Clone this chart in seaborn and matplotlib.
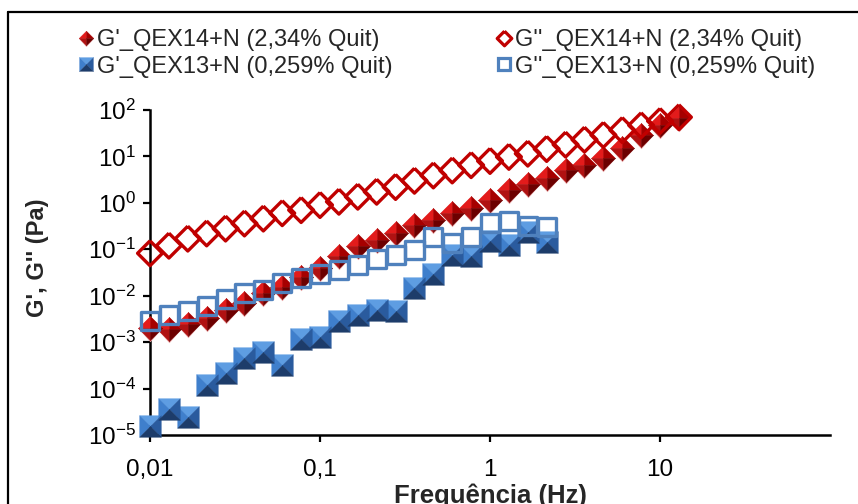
import numpy as np
import pandas as pd
import matplotlib
matplotlib.use("Agg")
import matplotlib.pyplot as plt
import seaborn as sns
from matplotlib.path import Path
from matplotlib.lines import Line2D
from matplotlib.legend_handler import HandlerTuple
from matplotlib.ticker import FixedLocator, FixedFormatter, NullLocator

# ---------------- data ----------------
freq = [0.01, 0.01292, 0.01668, 0.02154, 0.02783, 0.03594, 0.04642, 0.05995,
        0.07743, 0.1, 0.1292, 0.1668, 0.2154, 0.2783, 0.3594, 0.4642, 0.5995,
        0.7743, 1.0, 1.292, 1.668, 2.154, 2.783, 3.594, 4.642, 5.995, 7.743,
        10.0, 12.92]

g_storage_qex14 = [2.0e-3, 1.9e-3, 2.5e-3, 3.3e-3, 4.9e-3, 6.9e-3, 1.13e-2, 1.57e-2,
                   2.5e-2, 3.9e-2, 7.0e-2, 0.12, 0.16, 0.22, 0.33, 0.43, 0.60,
                   0.76, 1.15, 1.9, 2.5, 3.5, 5.1, 6.5, 9.1, 15.0, 29.0, 48.0, 66.0]
g_loss_qex14 = [0.082, 0.12, 0.17, 0.22, 0.28, 0.36, 0.46, 0.60, 0.70, 0.90, 1.06,
                1.36, 1.74, 2.2, 3.0, 3.9, 5.0, 6.5, 8.0, 9.8, 11.5, 14.5, 18.0,
                23.0, 29.0, 37.0, 47.0, 58.0, 70.0]

g_storage_qex13 = [1.6e-5, 3.7e-5, 2.4e-5, 1.2e-4, 2.2e-4, 4.5e-4, 6.0e-4, 3.2e-4,
                   1.15e-3, 1.3e-3, 2.8e-3, 3.9e-3, 4.9e-3, 4.8e-3, 1.45e-2, 3.0e-2,
                   7.5e-2, 7.0e-2, 0.15, 0.125, 0.24, 0.145]
g_loss_qex13 = [2.9e-3, 3.9e-3, 4.7e-3, 5.9e-3, 8.5e-3, 1.12e-2, 1.35e-2, 1.85e-2,
                2.4e-2, 2.9e-2, 3.6e-2, 4.6e-2, 6.1e-2, 7.5e-2, 9.7e-2, 0.18, 0.135,
                0.18, 0.37, 0.41, 0.32, 0.30]

series_labels = ["G'_QEX14+N (2,34% Quit)", "G''_QEX14+N (2,34% Quit)",
                 "G'_QEX13+N (0,259% Quit)", "G''_QEX13+N (0,259% Quit)"]

x_ticks = [0.01, 0.1, 1, 10]
x_tick_labels = ["0,01", "0,1", "1", "10"]
y_ticks = [1e-5, 1e-4, 1e-3, 1e-2, 1e-1, 1e0, 1e1, 1e2]
y_tick_labels = ["$10^{-5}$", "$10^{-4}$", "$10^{-3}$", "$10^{-2}$",
                 "$10^{-1}$", "$10^{0}$", "$10^{1}$", "$10^{2}$"]

df14 = pd.DataFrame({"f": freq, "gs": g_storage_qex14, "gl": g_loss_qex14})
df13 = pd.DataFrame({"f": freq[:len(g_storage_qex13)], "gs": g_storage_qex13,
                     "gl": g_loss_qex13})

# ---------------- style ----------------
sns.set_style("ticks")
plt.rcParams['font.family'] = ['Liberation Sans', 'DejaVu Sans']
plt.rcParams['mathtext.fontset'] = 'custom'
plt.rcParams['mathtext.rm'] = 'Liberation Sans'
plt.rcParams['mathtext.it'] = 'Liberation Sans:italic'
plt.rcParams['mathtext.bf'] = 'Liberation Sans:bold'

W, H = 858, 504
fig = plt.figure(figsize=(W / 100, H / 100), dpi=100)
ax = fig.add_axes([150 / W, 1 - 435 / H, 680 / W, 325 / H])

# pyramid facet markers
sq_facets = [
    ([(-1, 1), (1, 1), (0, 0), (-1, 1)], "#5e9de2"),   # top
    ([(-1, -1), (-1, 1), (0, 0), (-1, -1)], "#3f7fcc"),  # left
    ([(1, 1), (1, -1), (0, 0), (1, 1)], "#2a5b9e"),    # right
    ([(1, -1), (-1, -1), (0, 0), (1, -1)], "#1d3c6a"),  # bottom
]
dm_under = [(0, 1), (1, 0), (0, -1.14), (-1, 0), (0, 1)]
dm_facets = [
    ([(-1, 0), (0, 1), (0, 0), (-1, 0)], "#e31b1b"),   # upper-left
    ([(0, 1), (1, 0), (0, 0), (0, 1)], "#a60000"),     # upper-right
    ([(0, -1), (-1, 0), (0, 0), (0, -1)], "#b01212"),  # lower-left
    ([(1, 0), (0, -1), (0, 0), (1, 0)], "#6c0000"),    # lower-right
]
open_diamond = [(0, 1), (1, 0), (0, -1), (-1, 0), (0, 1)]

S_RED = 300
S_BLUE = 240

# G' QEX14 (filled red pyramids)
sns.scatterplot(data=df14, x="f", y="gs", ax=ax, marker=Path(dm_under),
                s=S_RED * 1.14 ** 2, color="#e8a3a3", linewidth=0, clip_on=False,
                zorder=3)
for verts, col in dm_facets:
    sns.scatterplot(data=df14, x="f", y="gs", ax=ax, marker=Path(verts),
                    s=S_RED, color=col, edgecolor=col, linewidth=0.3,
                    clip_on=False, zorder=3)
# G'' QEX14 (open red diamonds)
sns.scatterplot(data=df14, x="f", y="gl", ax=ax, marker=Path(open_diamond),
                s=320, facecolor="none", edgecolor="#c00000", linewidth=2.4,
                clip_on=False, zorder=4)
# G' QEX13 (filled blue pyramids)
for verts, col in sq_facets:
    sns.scatterplot(data=df13, x="f", y="gs", ax=ax, marker=Path(verts),
                    s=S_BLUE, color=col, edgecolor=col, linewidth=0.3,
                    clip_on=False, zorder=3)
# G'' QEX13 (open blue squares)
sns.scatterplot(data=df13, x="f", y="gl", ax=ax, marker="s",
                s=170, facecolor="none", edgecolor="#4f81bd", linewidth=2.4,
                clip_on=False, zorder=4)

ax.set_xscale("log")
ax.set_yscale("log")
ax.set_xlim(0.01, 100)
ax.set_ylim(1e-5, 1e2)
ax.xaxis.set_major_locator(FixedLocator(x_ticks))
ax.xaxis.set_major_formatter(FixedFormatter(x_tick_labels))
ax.xaxis.set_minor_locator(NullLocator())
ax.yaxis.set_major_locator(FixedLocator(y_ticks))
ax.yaxis.set_major_formatter(FixedFormatter(y_tick_labels))
ax.yaxis.set_minor_locator(NullLocator())

for side in ["top", "right"]:
    ax.spines[side].set_visible(False)
for side in ["left", "bottom"]:
    ax.spines[side].set_linewidth(1.8)
    ax.spines[side].set_color("black")
    ax.spines[side].set_zorder(2)
ax.tick_params(axis="both", which="major", direction="out", length=5, width=1.6,
               color="black", labelsize=17.5, labelcolor="black")
ax.tick_params(axis="x", pad=12)
ax.tick_params(axis="y", pad=5)

ax.set_xlabel("Frequência (Hz)", fontsize=18.5, fontweight="bold")
ax.xaxis.set_label_coords(0.5, -0.148)
ax.set_ylabel("G', G'' (Pa)", fontsize=17, fontweight="bold")
ax.yaxis.set_label_coords(-0.148, 0.545)

# outer chart frame (cropped at the right and bottom)
fig.add_artist(Line2D([8 / W, 8 / W], [0, 1 - 12 / H], transform=fig.transFigure,
                      color="black", lw=1.6))
fig.add_artist(Line2D([8 / W, 1], [1 - 12 / H, 1 - 12 / H], transform=fig.transFigure,
                      color="black", lw=1.6))

# legend proxies
def proxy(verts, col, ms):
    return Line2D([], [], ls="none", marker=Path(verts), markersize=ms,
                  markerfacecolor=col, markeredgecolor=col, markeredgewidth=0.2)

h_red = tuple([proxy(dm_under, "#e8a3a3", 10.5 * 1.14)] +
              [proxy(v, c, 10.5) for v, c in dm_facets])
h_blue = tuple(proxy(v, c, 10) for v, c in sq_facets)
h_red_open = Line2D([], [], ls="none", marker=Path(open_diamond), markersize=10.5,
                    markerfacecolor="none", markeredgecolor="#c00000",
                    markeredgewidth=2.3)
h_blue_open = Line2D([], [], ls="none", marker="s", markersize=8.5,
                     markerfacecolor="none", markeredgecolor="#4f81bd",
                     markeredgewidth=2.3)

common = dict(loc="upper left", frameon=False, fontsize=17, handlelength=0.5,
              handletextpad=0.2, labelspacing=0.2, borderpad=0, borderaxespad=0,
              handler_map={tuple: HandlerTuple(ndivide=1)})
fig.legend([h_red, h_blue], [series_labels[0], series_labels[2]],
           bbox_to_anchor=(80 / W, 1 - 29 / H), **common)
fig.legend([h_red_open, h_blue_open], [series_labels[1], series_labels[3]],
           bbox_to_anchor=(498 / W, 1 - 29 / H), **common)

fig.savefig("out.png", dpi=100)
